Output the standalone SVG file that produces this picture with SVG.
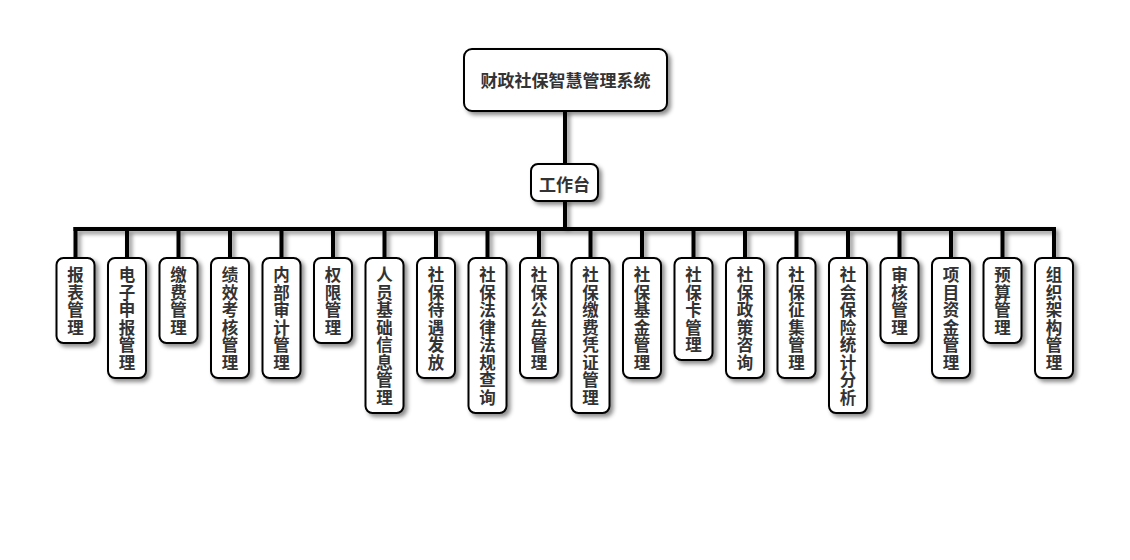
<svg xmlns="http://www.w3.org/2000/svg" width="1130" height="560" viewBox="0 0 1130 560">
<defs>
<filter id="sh" x="-30%" y="-30%" width="160%" height="160%">
<feDropShadow dx="3" dy="3" stdDeviation="2" flood-color="#000" flood-opacity="0.45"/>
</filter>
<style>
.box{fill:#fff;stroke:#000;stroke-width:2;filter:url(#sh)}
.t{font-family:"Noto Sans CJK SC","Noto Sans",sans-serif;font-weight:bold;fill:#333;text-anchor:middle}
.c{font-size:16.5px}
.ln{stroke:#000;stroke-width:4;fill:none;stroke-linecap:square}
</style>
</defs>
<rect width="1130" height="560" fill="#fff"/>
<g id="connectors" filter="url(#sh)">
<path class="ln" d="M565,112 V164"/>
<path class="ln" d="M565,201 V229"/>
<path class="ln" d="M75.5,229 H1054"/>
<path class="ln" d="M75.5,229 V258 M127,229 V258 M178.5,229 V258 M230,229 V258 M281.5,229 V258 M333,229 V258 M384.5,229 V258 M436,229 V258 M487.5,229 V258 M539,229 V258 M590.5,229 V258 M642,229 V258 M693.5,229 V258 M745,229 V258 M796.5,229 V258 M848,229 V258 M899.5,229 V258 M951,229 V258 M1002.5,229 V258 M1054,229 V258"/>
</g>
<g id="root">
<rect class="box" x="464" y="49" width="203" height="62" rx="8"/>
<text class="t" x="565.5" y="87" font-size="17">财政社保智慧管理系统</text>
</g>
<g id="workbench">
<rect class="box" x="531" y="164" width="67" height="37" rx="7"/>
<text class="t" x="564.5" y="191" font-size="17">工作台</text>
</g>
<g id="n1"><rect class="box" x="56.5" y="258" width="38" height="85" rx="7"/><text class="t c"><tspan x="75.5" y="281">报</tspan><tspan x="75.5" dy="17.5">表</tspan><tspan x="75.5" dy="17.5">管</tspan><tspan x="75.5" dy="17.5">理</tspan></text></g>
<g id="n2"><rect class="box" x="108" y="258" width="38" height="120" rx="7"/><text class="t c"><tspan x="127" y="281">电</tspan><tspan x="127" dy="17.5">子</tspan><tspan x="127" dy="17.5">申</tspan><tspan x="127" dy="17.5">报</tspan><tspan x="127" dy="17.5">管</tspan><tspan x="127" dy="17.5">理</tspan></text></g>
<g id="n3"><rect class="box" x="159.5" y="258" width="38" height="85" rx="7"/><text class="t c"><tspan x="178.5" y="281">缴</tspan><tspan x="178.5" dy="17.5">费</tspan><tspan x="178.5" dy="17.5">管</tspan><tspan x="178.5" dy="17.5">理</tspan></text></g>
<g id="n4"><rect class="box" x="211" y="258" width="38" height="120" rx="7"/><text class="t c"><tspan x="230" y="281">绩</tspan><tspan x="230" dy="17.5">效</tspan><tspan x="230" dy="17.5">考</tspan><tspan x="230" dy="17.5">核</tspan><tspan x="230" dy="17.5">管</tspan><tspan x="230" dy="17.5">理</tspan></text></g>
<g id="n5"><rect class="box" x="262.5" y="258" width="38" height="120" rx="7"/><text class="t c"><tspan x="281.5" y="281">内</tspan><tspan x="281.5" dy="17.5">部</tspan><tspan x="281.5" dy="17.5">审</tspan><tspan x="281.5" dy="17.5">计</tspan><tspan x="281.5" dy="17.5">管</tspan><tspan x="281.5" dy="17.5">理</tspan></text></g>
<g id="n6"><rect class="box" x="314" y="258" width="38" height="85" rx="7"/><text class="t c"><tspan x="333" y="281">权</tspan><tspan x="333" dy="17.5">限</tspan><tspan x="333" dy="17.5">管</tspan><tspan x="333" dy="17.5">理</tspan></text></g>
<g id="n7"><rect class="box" x="365.5" y="258" width="38" height="155" rx="7"/><text class="t c"><tspan x="384.5" y="281">人</tspan><tspan x="384.5" dy="17.5">员</tspan><tspan x="384.5" dy="17.5">基</tspan><tspan x="384.5" dy="17.5">础</tspan><tspan x="384.5" dy="17.5">信</tspan><tspan x="384.5" dy="17.5">息</tspan><tspan x="384.5" dy="17.5">管</tspan><tspan x="384.5" dy="17.5">理</tspan></text></g>
<g id="n8"><rect class="box" x="417" y="258" width="38" height="120" rx="7"/><text class="t c"><tspan x="436" y="281">社</tspan><tspan x="436" dy="17.5">保</tspan><tspan x="436" dy="17.5">待</tspan><tspan x="436" dy="17.5">遇</tspan><tspan x="436" dy="17.5">发</tspan><tspan x="436" dy="17.5">放</tspan></text></g>
<g id="n9"><rect class="box" x="468.5" y="258" width="38" height="155" rx="7"/><text class="t c"><tspan x="487.5" y="281">社</tspan><tspan x="487.5" dy="17.5">保</tspan><tspan x="487.5" dy="17.5">法</tspan><tspan x="487.5" dy="17.5">律</tspan><tspan x="487.5" dy="17.5">法</tspan><tspan x="487.5" dy="17.5">规</tspan><tspan x="487.5" dy="17.5">查</tspan><tspan x="487.5" dy="17.5">询</tspan></text></g>
<g id="n10"><rect class="box" x="520" y="258" width="38" height="120" rx="7"/><text class="t c"><tspan x="539" y="281">社</tspan><tspan x="539" dy="17.5">保</tspan><tspan x="539" dy="17.5">公</tspan><tspan x="539" dy="17.5">告</tspan><tspan x="539" dy="17.5">管</tspan><tspan x="539" dy="17.5">理</tspan></text></g>
<g id="n11"><rect class="box" x="571.5" y="258" width="38" height="155" rx="7"/><text class="t c"><tspan x="590.5" y="281">社</tspan><tspan x="590.5" dy="17.5">保</tspan><tspan x="590.5" dy="17.5">缴</tspan><tspan x="590.5" dy="17.5">费</tspan><tspan x="590.5" dy="17.5">凭</tspan><tspan x="590.5" dy="17.5">证</tspan><tspan x="590.5" dy="17.5">管</tspan><tspan x="590.5" dy="17.5">理</tspan></text></g>
<g id="n12"><rect class="box" x="623" y="258" width="38" height="120" rx="7"/><text class="t c"><tspan x="642" y="281">社</tspan><tspan x="642" dy="17.5">保</tspan><tspan x="642" dy="17.5">基</tspan><tspan x="642" dy="17.5">金</tspan><tspan x="642" dy="17.5">管</tspan><tspan x="642" dy="17.5">理</tspan></text></g>
<g id="n13"><rect class="box" x="674.5" y="258" width="38" height="102" rx="7"/><text class="t c"><tspan x="693.5" y="281">社</tspan><tspan x="693.5" dy="17.5">保</tspan><tspan x="693.5" dy="17.5">卡</tspan><tspan x="693.5" dy="17.5">管</tspan><tspan x="693.5" dy="17.5">理</tspan></text></g>
<g id="n14"><rect class="box" x="726" y="258" width="38" height="120" rx="7"/><text class="t c"><tspan x="745" y="281">社</tspan><tspan x="745" dy="17.5">保</tspan><tspan x="745" dy="17.5">政</tspan><tspan x="745" dy="17.5">策</tspan><tspan x="745" dy="17.5">咨</tspan><tspan x="745" dy="17.5">询</tspan></text></g>
<g id="n15"><rect class="box" x="777.5" y="258" width="38" height="120" rx="7"/><text class="t c"><tspan x="796.5" y="281">社</tspan><tspan x="796.5" dy="17.5">保</tspan><tspan x="796.5" dy="17.5">征</tspan><tspan x="796.5" dy="17.5">集</tspan><tspan x="796.5" dy="17.5">管</tspan><tspan x="796.5" dy="17.5">理</tspan></text></g>
<g id="n16"><rect class="box" x="829" y="258" width="38" height="155" rx="7"/><text class="t c"><tspan x="848" y="281">社</tspan><tspan x="848" dy="17.5">会</tspan><tspan x="848" dy="17.5">保</tspan><tspan x="848" dy="17.5">险</tspan><tspan x="848" dy="17.5">统</tspan><tspan x="848" dy="17.5">计</tspan><tspan x="848" dy="17.5">分</tspan><tspan x="848" dy="17.5">析</tspan></text></g>
<g id="n17"><rect class="box" x="880.5" y="258" width="38" height="85" rx="7"/><text class="t c"><tspan x="899.5" y="281">审</tspan><tspan x="899.5" dy="17.5">核</tspan><tspan x="899.5" dy="17.5">管</tspan><tspan x="899.5" dy="17.5">理</tspan></text></g>
<g id="n18"><rect class="box" x="932" y="258" width="38" height="120" rx="7"/><text class="t c"><tspan x="951" y="281">项</tspan><tspan x="951" dy="17.5">目</tspan><tspan x="951" dy="17.5">资</tspan><tspan x="951" dy="17.5">金</tspan><tspan x="951" dy="17.5">管</tspan><tspan x="951" dy="17.5">理</tspan></text></g>
<g id="n19"><rect class="box" x="983.5" y="258" width="38" height="85" rx="7"/><text class="t c"><tspan x="1002.5" y="281">预</tspan><tspan x="1002.5" dy="17.5">算</tspan><tspan x="1002.5" dy="17.5">管</tspan><tspan x="1002.5" dy="17.5">理</tspan></text></g>
<g id="n20"><rect class="box" x="1035" y="258" width="38" height="120" rx="7"/><text class="t c"><tspan x="1054" y="281">组</tspan><tspan x="1054" dy="17.5">织</tspan><tspan x="1054" dy="17.5">架</tspan><tspan x="1054" dy="17.5">构</tspan><tspan x="1054" dy="17.5">管</tspan><tspan x="1054" dy="17.5">理</tspan></text></g>
</svg>
